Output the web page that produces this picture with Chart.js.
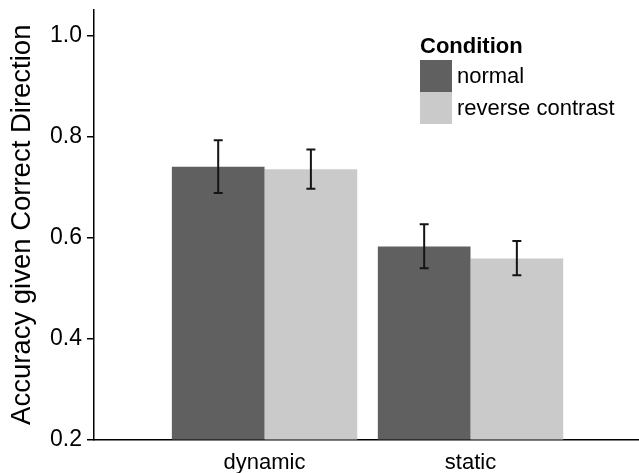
<!DOCTYPE html>
<html>
<head>
<meta charset="utf-8">
<script src="https://cdn.jsdelivr.net/npm/chart.js@4.4.1/dist/chart.umd.min.js"></script>
<style>
  html, body { margin: 0; padding: 0; background: #fff; }
  #wrap { width: 639px; height: 473px; position: relative; }
</style>
</head>
<body>
<div id="wrap"><canvas id="chart"></canvas></div>
<script>
// data
const categories = ['dynamic', 'static'];
const conditions = ['normal', 'reverse contrast'];
const normalMean = [0.740, 0.582];
const normalLow = [0.688, 0.539];
const normalHigh = [0.792, 0.626];
const reverseMean = [0.735, 0.558];
const reverseLow = [0.696, 0.525];
const reverseHigh = [0.774, 0.593];
const yTicks = [0.2, 0.4, 0.6, 0.8, 1.0];

const FONT = "'Liberation Sans', Arial, sans-serif";
const colors = ['#606060', '#cacaca'];

function toPoints(values) {
    return values.map(function (v, i) { return { x: i + 1, y: v }; });
}

// Error bars drawn on top of the bars
const errorBars = {
    id: 'errorBars',
    afterDatasetsDraw(chart) {
        const ctx = chart.ctx;
        const yScale = chart.scales.y;
        ctx.save();
        ctx.strokeStyle = '#151515';
        ctx.lineWidth = 2;
        chart.data.datasets.forEach(function (ds, di) {
            const meta = chart.getDatasetMeta(di);
            meta.data.forEach(function (bar, i) {
                const top = yScale.getPixelForValue(ds.errHigh[i]);
                const bot = yScale.getPixelForValue(ds.errLow[i]);
                const x = bar.x;
                ctx.beginPath();
                ctx.moveTo(x, top); ctx.lineTo(x, bot);
                ctx.moveTo(x - 4.5, top); ctx.lineTo(x + 4.5, top);
                ctx.moveTo(x - 4.5, bot); ctx.lineTo(x + 4.5, bot);
                ctx.stroke();
            });
        });
        ctx.restore();
    }
};

// ggplot-like legend: bold title with stacked keys
const keyLegend = {
    id: 'keyLegend',
    afterDraw(chart) {
        const ctx = chart.ctx;
        const left = 420, titleBase = 53, keyTop = 60, key = 32;
        ctx.save();
        ctx.fillStyle = '#000';
        ctx.font = 'bold 22px ' + FONT;
        ctx.textBaseline = 'alphabetic';
        ctx.fillText('Condition', left, titleBase);
        ctx.font = '22px ' + FONT;
        ctx.textBaseline = 'middle';
        chart.data.datasets.forEach(function (ds, i) {
            const y = keyTop + i * key;
            ctx.fillStyle = ds.backgroundColor;
            ctx.fillRect(left, y, key, key);
            ctx.fillStyle = '#000';
            ctx.fillText(ds.label, left + key + 5, y + key / 2 + 1);
        });
        ctx.restore();
    }
};

new Chart(document.getElementById('chart').getContext('2d'), {
    type: 'bar',
    data: {
        datasets: [{
            label: conditions[0],
            data: toPoints(normalMean),
            errLow: normalLow,
            errHigh: normalHigh,
            backgroundColor: colors[0],
        }, {
            label: conditions[1],
            data: toPoints(reverseMean),
            errLow: reverseLow,
            errHigh: reverseHigh,
            backgroundColor: colors[1],
        }]
    },
    options: {
        responsive: true,
        maintainAspectRatio: false,
        animation: false,
        layout: { padding: { top: 10, right: 0, bottom: 0, left: 0 } },
        datasets: { bar: { categoryPercentage: 0.9, barPercentage: 1.0 } },
        plugins: { legend: { display: false }, tooltip: { enabled: false } },
        scales: {
            x: {
                type: 'linear',
                offset: false,
                min: 0.172,
                max: 2.818,
                afterBuildTicks: function (scale) {
                    scale.ticks = categories.map(function (c, i) { return { value: i + 1 }; });
                },
                afterFit: function (scale) {
                    scale.height = 33.5;
                    scale.paddingLeft = 0;
                    scale.paddingRight = 0;
                },
                grid: { display: false, drawTicks: false },
                border: { display: true, color: '#000', width: 1.5 },
                ticks: {
                    padding: 10,
                    maxRotation: 0,
                    color: '#000',
                    font: { family: FONT, size: 22 },
                    callback: function (v) { return categories[v - 1]; }
                }
            },
            y: {
                min: 0.2,
                max: 1.05,
                afterBuildTicks: function (scale) {
                    scale.ticks = yTicks.map(function (v) { return { value: v }; });
                },
                afterFit: function (scale) {
                    scale.width = 94;
                    scale.paddingTop = 0;
                    scale.paddingBottom = 0;
                },
                grid: { drawOnChartArea: false, drawTicks: true, tickLength: 7, color: '#000', lineWidth: 1.5 },
                border: { display: true, color: '#000', width: 1.5 },
                ticks: {
                    padding: 5,
                    color: '#000',
                    font: { family: FONT, size: 23 },
                    callback: function (v) { return v.toFixed(1); }
                },
                title: {
                    display: true,
                    text: 'Accuracy given Correct Direction',
                    color: '#000',
                    font: { family: FONT, size: 27.5 },
                    padding: { top: 6, bottom: 0 }
                }
            }
        }
    },
    plugins: [errorBars, keyLegend]
});
</script>
</body>
</html>
